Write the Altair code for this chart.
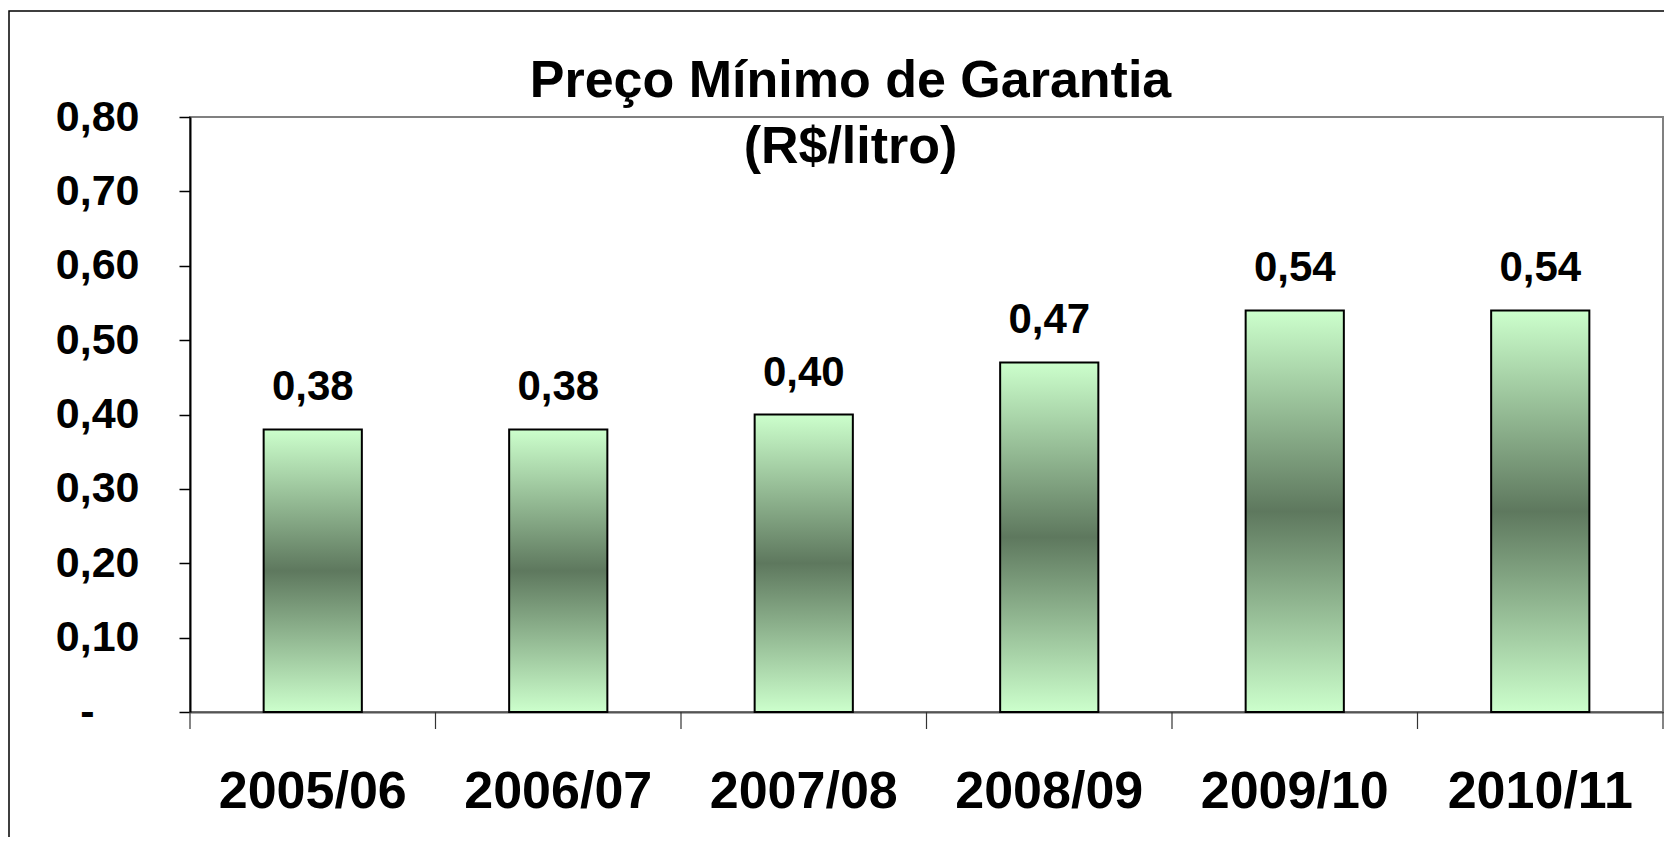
import altair as alt
import pandas as pd

# ---- data ----
categories = ["2005/06", "2006/07", "2007/08", "2008/09", "2009/10", "2010/11"]
values = [0.38, 0.38, 0.40, 0.47, 0.54, 0.54]
y_ticks = [0.0, 0.1, 0.2, 0.3, 0.4, 0.5, 0.6, 0.7, 0.8]
x_boundaries = [0, 1, 2, 3, 4, 5, 6]
title_lines = ["Preço Mínimo de Garantia", "(R$/litro)"]

FONT = "Liberation Sans"
W, H = 1473, 595

df = pd.DataFrame({"safra": categories, "preco": values})
df["rotulo"] = [f"{v:.2f}".replace(".", ",") for v in values]

gradient = alt.Gradient(
    gradient="linear",
    stops=[
        alt.GradientStop(color="#CCFFCC", offset=0),
        alt.GradientStop(color="#5E785E", offset=0.5),
        alt.GradientStop(color="#CCFFCC", offset=1),
    ],
    x1=0, x2=0, y1=0, y2=1,
)

x_enc = alt.X(
    "safra:N",
    sort=categories,
    scale=alt.Scale(paddingInner=0.6, paddingOuter=0.3),
    axis=alt.Axis(
        title=None, labelAngle=0, ticks=False, domain=True,
        domainColor="#555555", domainWidth=2,
        labelFont=FONT, labelFontSize=52, labelFontWeight="bold",
        labelColor="black", labelPadding=54, labelLimit=0,
    ),
)
y_enc = alt.Y(
    "preco:Q",
    scale=alt.Scale(domain=[0, 0.8], nice=False, zero=True),
    axis=alt.Axis(
        title=None, values=y_ticks, grid=False,
        labelExpr="datum.value == 0 ? '-' : replace(format(datum.value, '.2f'), '.', ',')",
        tickSize=11, tickColor="black", tickWidth=1.5,
        domainColor="black", domainWidth=2,
        labelFont=FONT, labelFontSize=43, labelFontWeight="bold",
        labelColor="black",
        labelPadding={"condition": {"test": "datum.value == 0", "value": 85}, "value": 40},
    ),
)

base = alt.Chart(df)
bars = base.mark_bar(color=gradient, stroke="black", strokeWidth=2).encode(x=x_enc, y=y_enc)
labels = base.mark_text(
    dy=-29, baseline="alphabetic", font=FONT, fontSize=42, fontWeight="bold", color="black"
).encode(x=x_enc, y=y_enc, text="rotulo:N")

ticks = alt.Chart(pd.DataFrame({"b": x_boundaries})).mark_rule(
    color="#333333", strokeWidth=1.2
).encode(
    x=alt.X("b:Q", scale=alt.Scale(domain=[0, 6], nice=False, zero=False), axis=None),
    y=alt.value(H),
    y2=alt.value(H + 17),
)

frame = alt.Chart(pd.DataFrame({"a": [0]})).mark_rect(
    fillOpacity=0, stroke="black", strokeWidth=1.5
).encode(
    x=alt.value(-181), x2=alt.value(W + 40),
    y=alt.value(-106), y2=alt.value(H + 300),
)

chart = alt.layer(frame, alt.layer(bars, labels), ticks).resolve_scale(x="independent").properties(
    width=W,
    height=H,
    autosize=alt.AutoSizeParams(type="none"),
    padding={"left": 182, "top": 109, "right": 1, "bottom": 125},
    background="white",
    title=alt.Title(
        title_lines, font=FONT, fontSize=52, fontWeight="bold", color="black",
        anchor="middle", dx=-76, dy=164, lineHeight=66, offset=0,
    ),
).configure_view(stroke="#808080", strokeWidth=2)

chart.save("out.html", embed_options={"renderer": "svg", "actions": False})
